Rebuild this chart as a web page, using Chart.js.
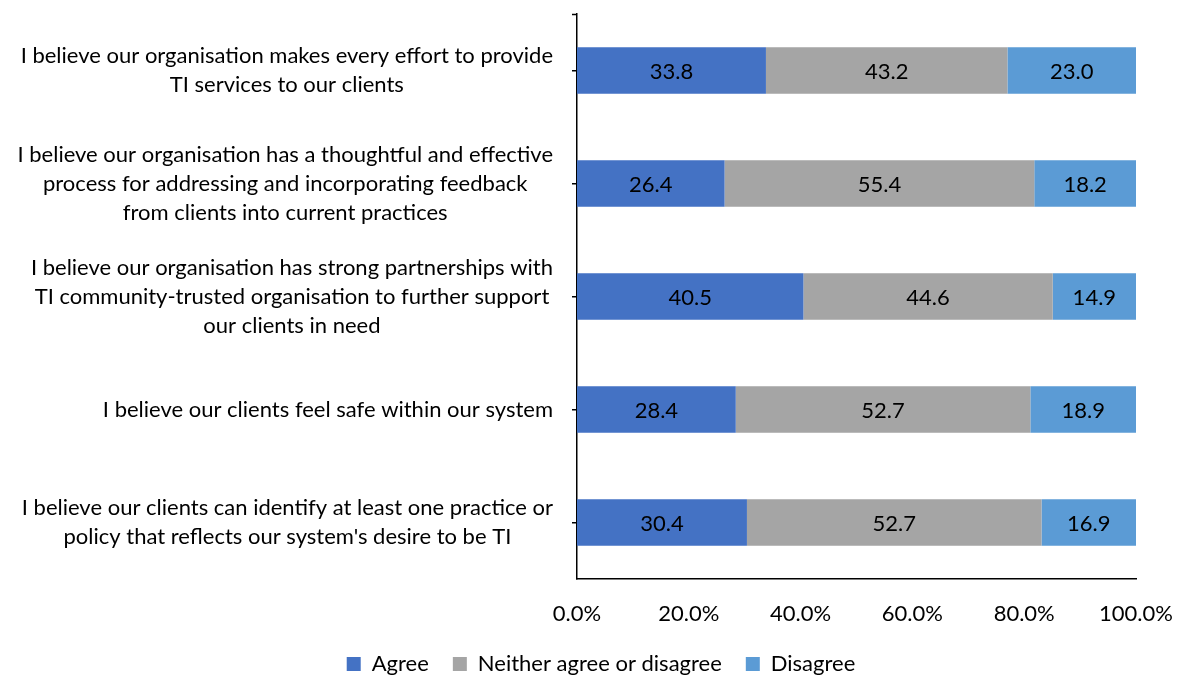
<!DOCTYPE html>
<html>
<head>
<meta charset="utf-8">
<script src="https://cdn.jsdelivr.net/npm/chart.js@4"></script>
<style>
  html, body { margin: 0; padding: 0; background: #ffffff; }
  #wrap { width: 1182px; height: 677px; }
</style>
</head>
<body>
<div id="wrap"><canvas id="chart" width="1182" height="677"></canvas></div>
<script>
// Survey statements (one entry per bar, multi-line where the text wraps)
const categories = [
  ["I believe our organisation makes every effort to provide", "TI services to our clients"],
  ["I believe our organisation has a thoughtful and effective", "process for addressing and incorporating feedback", "from clients into current practices"],
  ["I believe our organisation has strong partnerships with", "TI community-trusted organisation to further support", "our clients in need"],
  ["I believe our clients feel safe within our system"],
  ["I believe our clients can identify at least one practice or", "policy that reflects our system's desire to be TI"]
];

const seriesNames = ["Agree", "Neither agree or disagree", "Disagree"];
const agree    = [33.8, 26.4, 40.5, 28.4, 30.4];
const neither  = [43.2, 55.4, 44.6, 52.7, 52.7];
const disagree = [23.0, 18.2, 14.9, 18.9, 16.9];

const xMin = 0, xMax = 100, xStep = 20;

const FONT_FAMILY = "Lato, 'Liberation Sans', sans-serif";
const FONT_SIZE = 22;
const LINE_H = 29;
const TEXT = "#000000";

Chart.defaults.font.family = FONT_FAMILY;
Chart.defaults.font.size = FONT_SIZE;
Chart.defaults.color = TEXT;

// Centred value labels inside each bar segment
const segmentLabels = {
  id: "segmentLabels",
  afterDatasetsDraw(chart) {
    const ctx = chart.ctx;
    ctx.save();
    ctx.font = `${FONT_SIZE}px ${FONT_FAMILY}`;
    ctx.fillStyle = TEXT;
    ctx.textAlign = "center";
    ctx.textBaseline = "middle";
    chart.data.datasets.forEach((ds, di) => {
      const meta = chart.getDatasetMeta(di);
      meta.data.forEach((bar, i) => {
        const v = ds.data[i];
        ctx.fillText(v.toFixed(1), (bar.x + bar.base) / 2, bar.y + 1);
      });
    });
    ctx.restore();
  }
};

// Category text: each block right-aligned to the axis, its lines centred
const categoryText = {
  id: "categoryText",
  afterDraw(chart) {
    const ctx = chart.ctx;
    const y = chart.scales.y;
    ctx.save();
    ctx.font = `${FONT_SIZE}px ${FONT_FAMILY}`;
    ctx.fillStyle = TEXT;
    ctx.textAlign = "center";
    ctx.textBaseline = "middle";
    categories.forEach((lines, i) => {
      const cy = y.getPixelForTick(i);
      const w = Math.max(...lines.map(l => ctx.measureText(l).width));
      const cx = chart.chartArea.left - 24 - w / 2;
      lines.forEach((l, k) => {
        ctx.fillText(l, cx, cy + (k - (lines.length - 1) / 2) * LINE_H);
      });
    });
    // small cap at the top end of the category axis
    ctx.strokeStyle = "#000";
    ctx.lineWidth = 1.5;
    ctx.beginPath();
    ctx.moveTo(chart.chartArea.left - 5, chart.chartArea.top + 0.5);
    ctx.lineTo(chart.chartArea.left, chart.chartArea.top + 0.5);
    ctx.stroke();
    ctx.restore();
  }
};

// Keep the legend on its own baseline below the axis labels
const legendPlacement = {
  id: "legendPlacement",
  afterLayout(chart) {
    const lg = chart.legend;
    if (!lg) return;
    const h = lg.height;
    lg.top = 629;
    lg.bottom = lg.top + h;
  }
};

new Chart(document.getElementById("chart"), {
  type: "bar",
  data: {
    labels: categories,
    datasets: [
      { label: seriesNames[0], data: agree,    backgroundColor: "#4472C4" },
      { label: seriesNames[1], data: neither,  backgroundColor: "#A5A5A5" },
      { label: seriesNames[2], data: disagree, backgroundColor: "#5B9BD5" }
    ]
  },
  options: {
    indexAxis: "y",
    responsive: false,
    animation: false,
    devicePixelRatio: 1,
    layout: { padding: { top: 14, right: 46, bottom: 0, left: 66 } },
    datasets: { bar: { categoryPercentage: 1, barPercentage: 0.41, borderWidth: 0 } },
    scales: {
      x: {
        stacked: true,
        min: xMin,
        max: xMax,
        ticks: {
          stepSize: xStep,
          padding: 22,
          callback: v => v.toFixed(1) + "%"
        },
        grid: { display: false, drawTicks: false },
        border: { display: true, color: "#000", width: 1.5 },
        afterFit(scale) {
          scale.height = 42;
          scale.paddingLeft = 0;
          scale.paddingRight = 0;
        }
      },
      y: {
        stacked: true,
        ticks: { display: false },
        grid: {
          display: true,
          offset: false,
          drawOnChartArea: false,
          drawTicks: true,
          tickLength: 5,
          color: "#000",
          lineWidth: 1.5
        },
        border: { display: true, color: "#000", width: 1.5 },
        afterFit(scale) { scale.width = 511; }
      }
    },
    plugins: {
      legend: {
        position: "bottom",
        labels: {
          boxWidth: 14,
          boxHeight: 14,
          padding: 24,
          color: TEXT,
          font: { size: FONT_SIZE, family: FONT_FAMILY }
        }
      },
      tooltip: { enabled: false }
    }
  },
  plugins: [segmentLabels, categoryText, legendPlacement]
});
</script>
</body>
</html>
